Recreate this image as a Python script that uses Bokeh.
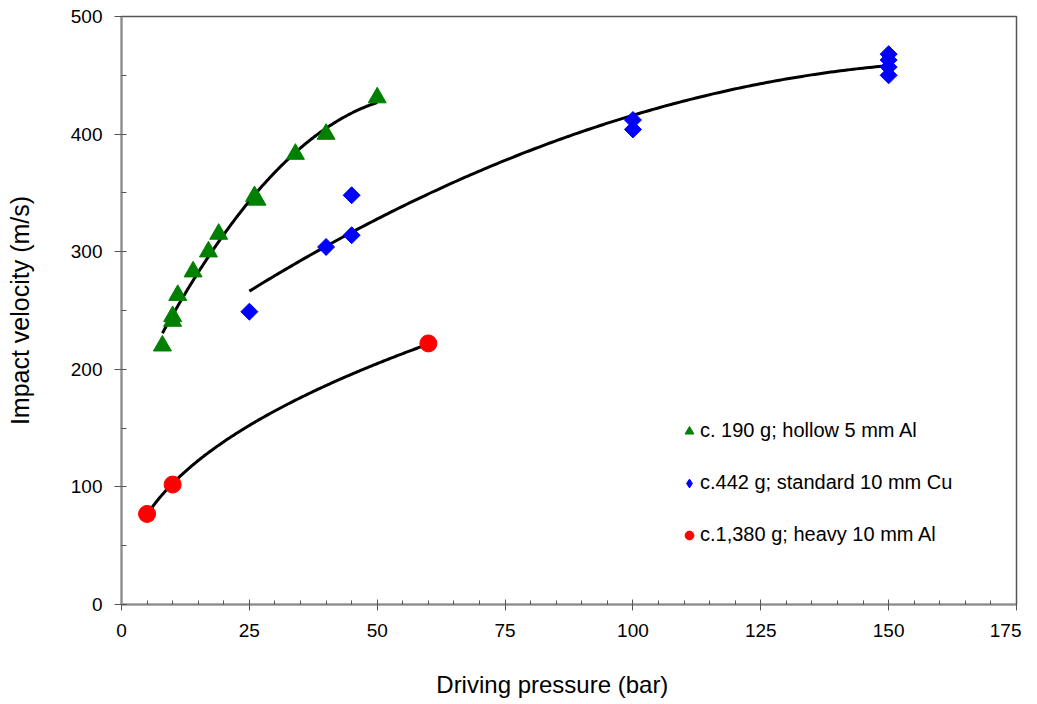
import numpy as np
from bokeh.plotting import figure
from bokeh.models import Range1d, SingleIntervalTicker, Legend, LegendItem, ColumnDataSource
from bokeh.embed import file_html
from bokeh.resources import INLINE

# --- data ---
green_x = [8, 10, 10, 11, 14, 17, 19, 26, 26.5, 34, 40, 50]
green_y = [220, 245, 241, 263, 283, 300, 315, 347, 344, 383, 400, 431]

blue_x = [25, 40, 45, 45, 100, 100, 150, 150, 150, 150]
blue_y = [249, 304, 348, 314, 412, 404, 468, 463, 457, 450]

red_x = [5, 10, 60]
red_y = [77, 102, 222]

labels = ["c. 190 g; hollow 5 mm Al", "c.442 g; standard 10 mm Cu", "c.1,380 g; heavy 10 mm Al"]
x_title = "Driving pressure (bar)"
y_title = "Impact velocity (m/s)"

FONT = "Liberation Sans"

p = figure(width=1021, height=700, output_backend="svg", toolbar_location=None,
           x_range=Range1d(0, 175), y_range=Range1d(0, 500),
           min_border_left=121, min_border_right=5, min_border_top=16, min_border_bottom=94)
p.xgrid.visible = False
p.ygrid.visible = False
p.outline_line_color = "#555555"
p.outline_line_width = 1.5
p.background_fill_color = "white"
p.border_fill_color = "white"

# trendlines (fits of the data)
gx = np.array(green_x, float); gy = np.array(green_y, float)
cg = np.polyfit(gx, gy, 2)
xs_g = np.linspace(gx.min(), gx.max(), 200)
p.line(xs_g, np.polyval(cg, xs_g), line_color="black", line_width=3)

bx = np.array(blue_x, float); by = np.array(blue_y, float)
cb = np.polyfit(bx, by, 2)
xs_b = np.linspace(bx.min(), bx.max(), 200)
p.line(xs_b, np.polyval(cb, xs_b), line_color="black", line_width=3)

rx = np.array(red_x, float); ry = np.array(red_y, float)
cr = np.polyfit(np.log(rx), np.log(ry), 1)
xs_r = np.linspace(rx.min(), rx.max(), 200)
p.line(xs_r, np.exp(cr[1]) * xs_r ** cr[0], line_color="black", line_width=3)

blue_src = ColumnDataSource(data=dict(x=blue_x, y=blue_y))

rg = p.scatter(green_x, green_y, marker="triangle", size=18, fill_color="#008000", line_color="#008000")
# diamond renderer (used by the legend) lies hidden beneath the rotated squares
rb_leg = p.scatter("x", "y", source=blue_src, marker="diamond", size=15,
                   fill_color="#0000FF", line_color="#0000FF")
rb = p.scatter("x", "y", source=blue_src, marker="square", angle=np.pi / 4, size=12,
               fill_color="#0000FF", line_color="#0000FF")
rr = p.scatter(red_x, red_y, marker="circle", size=17, fill_color="#FF0000", line_color="#FF0000")

# axes
p.xaxis.ticker = SingleIntervalTicker(interval=25, num_minor_ticks=5)
p.yaxis.ticker = SingleIntervalTicker(interval=100, num_minor_ticks=2)
for ax in (p.xaxis[0], p.yaxis[0]):
    ax.axis_line_color = "#8c8c8c"
    ax.axis_line_width = 2
    ax.major_tick_line_color = "#555555"
    ax.minor_tick_line_color = "#555555"
    ax.major_label_text_font = FONT
    ax.major_label_text_font_size = "19px"
    ax.major_label_text_color = "black"
    ax.axis_label_text_font = FONT
    ax.axis_label_text_font_style = "normal"
    ax.axis_label_text_color = "black"

p.xaxis.major_tick_in = 5
p.xaxis.major_tick_out = 6
p.xaxis.minor_tick_in = 4
p.xaxis.minor_tick_out = 0
p.xaxis.major_label_standoff = 13
# trailing no-break spaces shift the centred title a little to the left, as in the reference
p.xaxis.axis_label = x_title + "\u00a0" * 5
p.xaxis.axis_label_standoff = 31
p.xaxis.axis_label_text_font_size = "24px"

p.yaxis.major_tick_in = 0
p.yaxis.major_tick_out = 7
p.yaxis.minor_tick_in = 5
p.yaxis.minor_tick_out = 0
p.yaxis.major_label_standoff = 12
p.yaxis.axis_label = y_title
p.yaxis.axis_label_standoff = 34
p.yaxis.axis_label_text_font_size = "25px"

legend = Legend(items=[LegendItem(label=labels[0], renderers=[rg]),
                       LegendItem(label=labels[1], renderers=[rb_leg]),
                       LegendItem(label=labels[2], renderers=[rr])],
                location=(557, 58), orientation="vertical")
legend.border_line_color = None
legend.background_fill_alpha = 0
legend.padding = 0
legend.margin = 0
legend.spacing = 29
legend.glyph_width = 22
legend.glyph_height = 22
legend.label_height = 20
legend.label_standoff = 0
legend.label_text_font = FONT
legend.label_text_font_size = "20px"
legend.label_text_color = "black"
p.add_layout(legend, "center")

open("out.html", "w").write(file_html(p, INLINE))
